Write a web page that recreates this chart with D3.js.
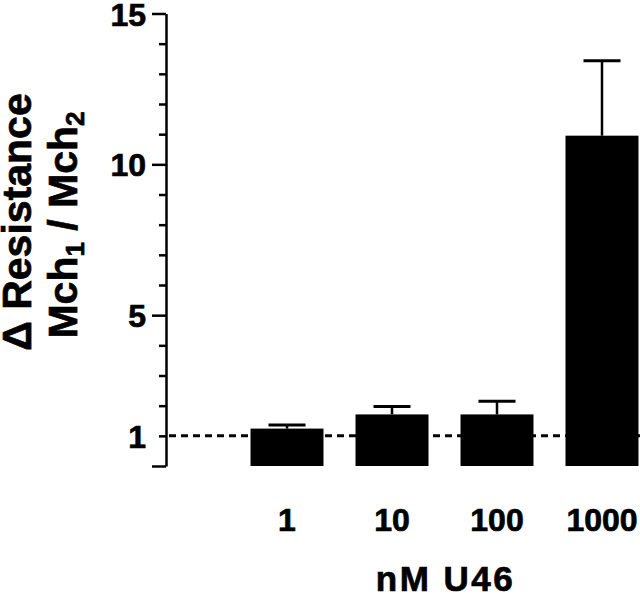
<!DOCTYPE html>
<html>
<head>
<meta charset="utf-8">
<script src="https://d3js.org/d3.v7.min.js"></script>
<style>
  body { margin: 0; background: #fff; }
  text { font-family: "Liberation Sans", Arial, Helvetica, sans-serif; font-weight: bold; fill: #000; stroke: #000; stroke-width: 0.7px; }
</style>
</head>
<body>
<div id="chart"></div>
<script>
// chart size
var w = 640, h = 594;

// data
var doses = ["1", "10", "100", "1000"];
var means = [1.24, 1.71, 1.71, 10.95];
var sems = [0.12, 0.26, 0.44, 2.48];
var yTicks = d3.range(0, 16);
var yLabels = [1, 5, 10, 15];
var yMajor = [0, 5, 10, 15];
var baseline = 1;

var data = doses.map(function(d, i) { return {dose: d, mean: means[i], sem: sems[i]}; });

var axisX = 166;

// scales
var yScale = d3.scaleLinear().domain([0, 15]).range([466, 13.5]);
var xScale = d3.scaleBand().domain(doses).range([218.5, 670.5]).padding(0.305);

var svg = d3.select("#chart")
    .append("svg")
    .attr("width", w)
    .attr("height", h);

// dashed reference line at 1
svg.append("line")
    .attr("x1", axisX + 3)
    .attr("x2", w)
    .attr("y1", yScale(baseline))
    .attr("y2", yScale(baseline))
    .attr("stroke", "#000")
    .attr("stroke-width", 3)
    .attr("stroke-dasharray", "7,5");

// error bars
var err = svg.selectAll("g.err")
    .data(data)
    .enter()
    .append("g")
    .attr("class", "err");

err.append("line")
    .attr("x1", function(d) { return xScale(d.dose) + xScale.bandwidth() / 2; })
    .attr("x2", function(d) { return xScale(d.dose) + xScale.bandwidth() / 2; })
    .attr("y1", function(d) { return yScale(d.mean); })
    .attr("y2", function(d) { return yScale(d.mean + d.sem); })
    .attr("stroke", "#000")
    .attr("stroke-width", 2.5);

err.append("line")
    .attr("x1", function(d) { return xScale(d.dose) + xScale.bandwidth() / 2 - 18.5; })
    .attr("x2", function(d) { return xScale(d.dose) + xScale.bandwidth() / 2 + 18.5; })
    .attr("y1", function(d) { return yScale(d.mean + d.sem); })
    .attr("y2", function(d) { return yScale(d.mean + d.sem); })
    .attr("stroke", "#000")
    .attr("stroke-width", 3);

// bars
svg.selectAll("rect.bar")
    .data(data)
    .enter()
    .append("rect")
    .attr("class", "bar")
    .attr("x", function(d) { return xScale(d.dose); })
    .attr("width", xScale.bandwidth())
    .attr("y", function(d) { return yScale(d.mean); })
    .attr("height", function(d) { return yScale(0) - yScale(d.mean); })
    .attr("fill", "#000");

// y axis
var yAxis = d3.axisLeft(yScale)
    .tickValues(yTicks)
    .tickSizeOuter(0)
    .tickFormat(function(d) { return yLabels.indexOf(d) >= 0 ? d : ""; });

var gy = svg.append("g")
    .attr("class", "y axis")
    .attr("transform", "translate(" + axisX + ",0)")
    .call(yAxis);

gy.select(".domain").attr("stroke", "#000").attr("stroke-width", 2.5);
gy.selectAll(".tick line")
    .attr("stroke", "#000")
    .attr("stroke-width", 2.5)
    .attr("x2", function(d) { return yMajor.indexOf(d) >= 0 ? -14 : -7; });
gy.selectAll(".tick text")
    .attr("x", -20)
    .attr("dy", "0.36em")
    .style("font-size", "32px")
    .style("font-family", "'Liberation Sans', Arial, sans-serif")
    .style("font-weight", "bold");

// x tick labels
svg.selectAll("text.xlab")
    .data(doses)
    .enter()
    .append("text")
    .attr("class", "xlab")
    .attr("x", function(d) { return xScale(d) + xScale.bandwidth() / 2; })
    .attr("y", 531)
    .attr("text-anchor", "middle")
    .style("font-size", "32px")
    .text(function(d) { return d; });

// x axis title
svg.append("text")
    .attr("x", 445.5)
    .attr("y", 591)
    .attr("text-anchor", "middle")
    .style("font-size", "35px")
    .style("letter-spacing", "2.5px")
    .text("nM U46");

// y axis title, two lines
svg.append("text")
    .attr("transform", "translate(31,222) rotate(-90)")
    .attr("text-anchor", "middle")
    .style("font-size", "41px")
    .text("\u0394 Resistance");

var yt2 = svg.append("text")
    .attr("transform", "translate(77,225) rotate(-90)")
    .attr("text-anchor", "middle")
    .style("font-size", "41px");
yt2.append("tspan").text("Mch");
yt2.append("tspan").attr("dy", 7).style("font-size", "26px").text("1");
yt2.append("tspan").attr("dy", -7).text(" / Mch");
yt2.append("tspan").attr("dy", 7).style("font-size", "26px").text("2");
</script>
</body>
</html>
